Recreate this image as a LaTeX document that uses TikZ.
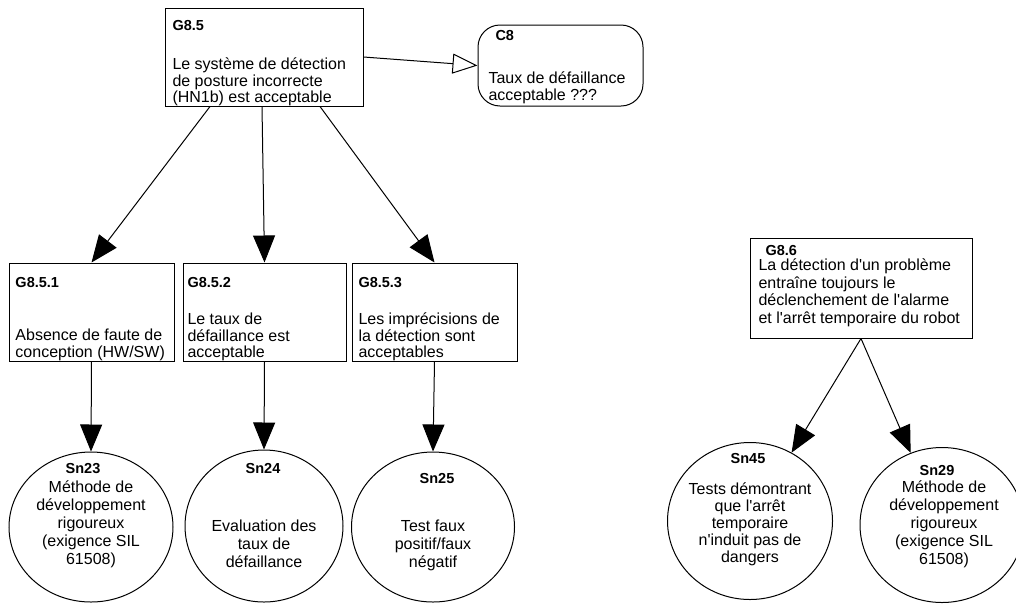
\documentclass[tikz,border=0pt]{standalone}
\usepackage{fontspec}
\setmainfont{Liberation Sans}
\usetikzlibrary{arrows.meta,shapes.geometric}
\newcommand{\ap}{\textquotesingle}

\begin{document}
\begin{tikzpicture}[
  x=1pt, y=-1pt,
  line width=1pt,
  goal/.style={draw, rectangle, inner sep=0pt},
  context/.style={draw, rectangle, rounded corners=22pt, inner sep=0pt},
  solution/.style={draw, ellipse, inner sep=0pt},
  gid/.style={anchor=base west, inner sep=0pt, font=\fontsize{14.5}{16}\selectfont\bfseries},
  sid/.style={anchor=base, inner sep=0pt, font=\fontsize{14.5}{16}\selectfont\bfseries},
  gtxt/.style={anchor=north west, inner sep=0pt, align=left, font=\fontsize{16}{15.5}\selectfont},
  stxt/.style={anchor=north, inner sep=0pt, align=center, font=\fontsize{16}{18}\selectfont},
  support/.style={draw, -{Triangle[length=27pt,width=22pt]}},
  incontext/.style={draw, -{Triangle[open,length=25pt,width=20pt]}}
]
\useasboundingbox[fill=white] (0,0) rectangle (1016,603);

% goals
\node[goal, minimum width=198pt, minimum height=98pt] (G85) at (264,57) {};
\node[context, minimum width=165pt, minimum height=81pt] (C8) at (560.5,65.5) {};
\node[goal, minimum width=165pt, minimum height=98pt] (G851) at (91.5,312) {};
\node[goal, minimum width=163pt, minimum height=98pt] (G852) at (264.5,312) {};
\node[goal, minimum width=165pt, minimum height=98pt] (G853) at (434.5,312) {};
\node[goal, minimum width=222pt, minimum height=100pt] (G86) at (861,288) {};

% solutions
\node[solution, minimum width=164pt, minimum height=150pt] (Sn23) at (91,527) {};
\node[solution, minimum width=158pt, minimum height=152pt] (Sn24) at (264,526) {};
\node[solution, minimum width=163pt, minimum height=150pt] (Sn25) at (433,527) {};
\node[solution, minimum width=165pt, minimum height=157pt] (Sn45) at (750,521) {};
\node[solution, minimum width=164pt, minimum height=155pt] (Sn29) at (942,525) {};

% labels
\node[gid] (G85id) at (172,30) {G8.5};
\node[gtxt] (G85txt) at (172,57) {\strut Le système de détection\\de posture incorrecte\\(HN1b) est acceptable};
\node[gid] (C8id) at (495,40) {C8};
\node[gtxt] (C8txt) at (488,71) {\strut Taux de défaillance\\acceptable ???};
\node[gid] (G851id) at (15,287) {G8.5.1};
\node[gtxt] (G851txt) at (15,328) {\strut Absence de faute de\\conception (HW/SW)};
\node[gid] (G852id) at (187,287) {G8.5.2};
\node[gtxt] (G852txt) at (187,312) {\strut Le taux de\\défaillance est\\acceptable};
\node[gid] (G853id) at (358,287) {G8.5.3};
\node[gtxt] (G853txt) at (358,312) {\strut Les imprécisions de\\la détection sont\\acceptables};
\node[gid] (G86id) at (765,255) {G8.6};
\node[gtxt, font=\fontsize{16}{17.5}\selectfont] (G86txt) at (758,257.75) {\strut La détection d\ap un problème\\entraîne toujours le\\déclenchement de l\ap alarme\\et l\ap arrêt temporaire du robot};

\node[sid] (Sn23id) at (83,473) {Sn23};
\node[stxt] (Sn23txt) at (91,479.4) {\strut Méthode de\\développement\\rigoureux\\(exigence SIL\\61508)};
\node[sid] (Sn24id) at (263,473) {Sn24};
\node[stxt] (Sn24txt) at (264,518.4) {\strut Evaluation des\\taux de\\défaillance};
\node[sid] (Sn25id) at (437,483) {Sn25};
\node[stxt] (Sn25txt) at (433,518.4) {\strut Test faux\\positif/faux\\négatif};
\node[sid] (Sn45id) at (748,463) {Sn45};
\node[stxt, font=\fontsize{16}{17}\selectfont] (Sn45txt) at (750,482) {\strut Tests démontrant\\que l\ap arrêt\\temporaire\\n\ap induit pas de\\dangers};
\node[sid] (Sn29id) at (937,475) {Sn29};
\node[stxt] (Sn29txt) at (944,479.4) {\strut Méthode de\\développement\\rigoureux\\(exigence SIL\\61508)};

% connectors
\draw[incontext] (G85.east) -- (C8.west);
\draw[support] ([xshift=-54pt]G85.south) -- (G851.north);
\draw[support] ([xshift=-2pt]G85.south) -- (G852.north);
\draw[support] ([xshift=56pt]G85.south) -- (G853.north);
\draw[support] (G851.south) -- (Sn23.north);
\draw[support] (G852.south) -- (Sn24.north);
\draw[support] (G853.south) -- (Sn25.north);
\draw[support] (G86.south) -- (Sn45);
\draw[support] (G86.south) -- (Sn29);
\end{tikzpicture}
\end{document}
